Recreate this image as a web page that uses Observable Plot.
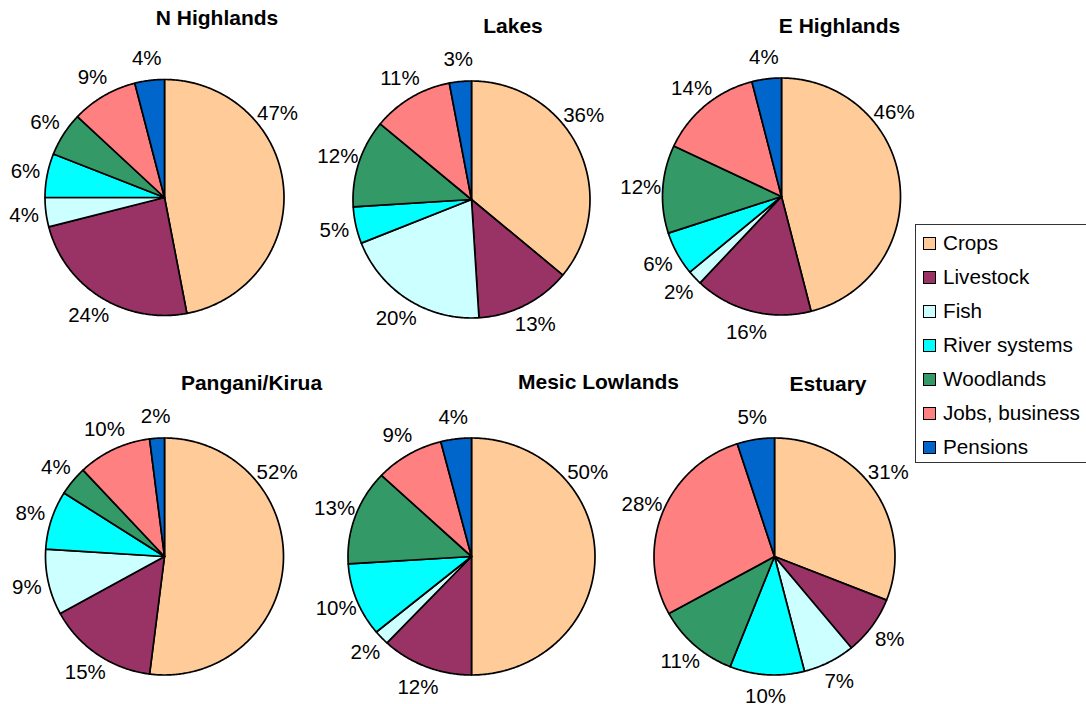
<!DOCTYPE html>
<html>
<head>
<meta charset="utf-8">
<script src="https://cdn.jsdelivr.net/npm/d3@7"></script>
<script src="https://cdn.jsdelivr.net/npm/@observablehq/plot@0.6"></script>
<style>
  html, body { margin: 0; padding: 0; background: #fff; }
  #figure { position: relative; width: 1086px; height: 704px; overflow: hidden; background: #fff;
            font-family: "Liberation Sans", Arial, Helvetica, sans-serif; }
  .panel { position: absolute; }
  .panel svg { overflow: visible; background: transparent; }
  #legend { position: absolute; left: 915px; top: 224px; width: 200px; height: 237px;
            border: 1px solid #333; background: #fff; }
  .item { position: absolute; left: 0; height: 24px; display: flex; align-items: center; font-size: 20.7px; color: #000; }
  .swatch { position: absolute; left: 7px; width: 11px; height: 11px; border: 1px solid #000; }
  .label { position: absolute; left: 27px; white-space: nowrap; line-height: 24px; }
</style>
</head>
<body>
<div id="figure"></div>
<script>
// Income sources by zone (% of household income)
const regions = ["N Highlands", "Lakes", "E Highlands", "Pangani/Kirua", "Mesic Lowlands", "Estuary"];
const categories = ["Crops", "Livestock", "Fish", "River systems", "Woodlands", "Jobs, business", "Pensions"];
const palette = ["#ffcc99", "#993366", "#ccffff", "#00ffff", "#339966", "#ff8080", "#0066cc"];

const nHighlands    = [47, 24, 4, 6, 6, 9, 4];
const lakes         = [36, 13, 20, 5, 12, 11, 3];
const eHighlands    = [46, 16, 2, 6, 12, 14, 4];
const panganiKirua  = [52, 15, 9, 8, 4, 10, 2];
const mesicLowlands = [50, 12, 2, 10, 13, 9, 4];
const estuary       = [31, 8, 7, 10, 11, 28, 5];

const seriesByRegion = [nHighlands, lakes, eHighlands, panganiKirua, mesicLowlands, estuary];

// Page placement of each pie: centre, radii (px) and title anchor
const layout = [
  {cx: 163.5, cy: 197,   rx: 119.5, ry: 118,   tx: 216,   ty: 24},
  {cx: 470.5, cy: 198.5, rx: 118.5, ry: 118.5, tx: 512,   ty: 32},
  {cx: 781,   cy: 195.5, rx: 119,   ry: 118.5, tx: 839,   ty: 32},
  {cx: 164,   cy: 555.5, rx: 119,   ry: 118.5, tx: 251,   ty: 389},
  {cx: 470.5, cy: 555.5, rx: 123.5, ry: 118.5, tx: 597.5, ty: 388},
  {cx: 773.5, cy: 555.5, rx: 120.5, ry: 118.5, tx: 827,   ty: 390}
];

const HALF = 220;          // half size of each panel svg, px
const LABEL_GAP = 22;      // distance of value labels outside the rim, px
const FIRST_LABEL_MAX = 53 * Math.PI / 180; // large leading slices get their label nudged up

const fig = document.getElementById("figure");
const font = "Liberation Sans, Arial, Helvetica, sans-serif";

regions.forEach((region, k) => {
  const values = seriesByRegion[k];
  const L = layout[k];
  const arcs = d3.pie().sort(null).value(d => d)(values); // clockwise from 12 o'clock

  // polygon vertices of each slice in unit-circle coordinates
  const verts = [];
  arcs.forEach((a, i) => {
    const key = categories[i];
    verts.push({key, cat: key, x: 0, y: 0});
    const n = Math.max(2, Math.ceil((a.endAngle - a.startAngle) / 0.01));
    for (let j = 0; j <= n; j++) {
      const t = a.startAngle + (a.endAngle - a.startAngle) * j / n;
      verts.push({key, cat: key, x: Math.sin(t), y: Math.cos(t)});
    }
  });

  const labels = arcs.map((a, i) => {
    let mid = (a.startAngle + a.endAngle) / 2;
    if (i === 0 && mid > FIRST_LABEL_MAX) mid = FIRST_LABEL_MAX;
    return {
      text: values[i] + "%",
      x: Math.sin(mid) * (1 + LABEL_GAP / L.rx),
      y: Math.cos(mid) * (1 + LABEL_GAP / L.ry)
    };
  });

  const title = [{text: region, x: (L.tx - L.cx) / L.rx, y: (L.cy - L.ty) / L.ry}];

  const chart = Plot.plot({
    width: 2 * HALF,
    height: 2 * HALF,
    margin: 0,
    style: {background: "transparent", overflow: "visible", fontFamily: font},
    x: {domain: [-HALF / L.rx, HALF / L.rx], range: [0, 2 * HALF], axis: null},
    y: {domain: [-HALF / L.ry, HALF / L.ry], range: [2 * HALF, 0], axis: null},
    color: {domain: categories, range: palette},
    marks: [
      Plot.line(verts, {
        x: "x", y: "y", z: "key", fill: "cat",
        stroke: "#000", strokeWidth: 1.7, curve: "linear-closed", strokeLinejoin: "round"
      }),
      Plot.text(labels, {
        x: "x", y: "y", text: "text",
        fontSize: 20.5, fill: "#000", textAnchor: "middle", lineAnchor: "middle"
      }),
      Plot.text(title, {
        x: "x", y: "y", text: "text",
        fontSize: 21, fontWeight: "bold", fill: "#000", textAnchor: "middle", lineAnchor: "bottom"
      })
    ]
  });

  const holder = document.createElement("div");
  holder.className = "panel";
  holder.style.left = (L.cx - HALF) + "px";
  holder.style.top = (L.cy - HALF) + "px";
  holder.appendChild(chart);
  fig.appendChild(holder);
});

// Legend
const legend = document.createElement("div");
legend.id = "legend";
categories.forEach((c, i) => {
  const item = document.createElement("div");
  item.className = "item";
  item.style.top = (18 + 34 * i - 12) + "px";
  item.style.width = "200px";
  const sw = document.createElement("span");
  sw.className = "swatch";
  sw.style.background = palette[i];
  const lb = document.createElement("span");
  lb.className = "label";
  lb.textContent = c;
  item.appendChild(sw);
  item.appendChild(lb);
  legend.appendChild(item);
});
fig.appendChild(legend);
</script>
</body>
</html>
